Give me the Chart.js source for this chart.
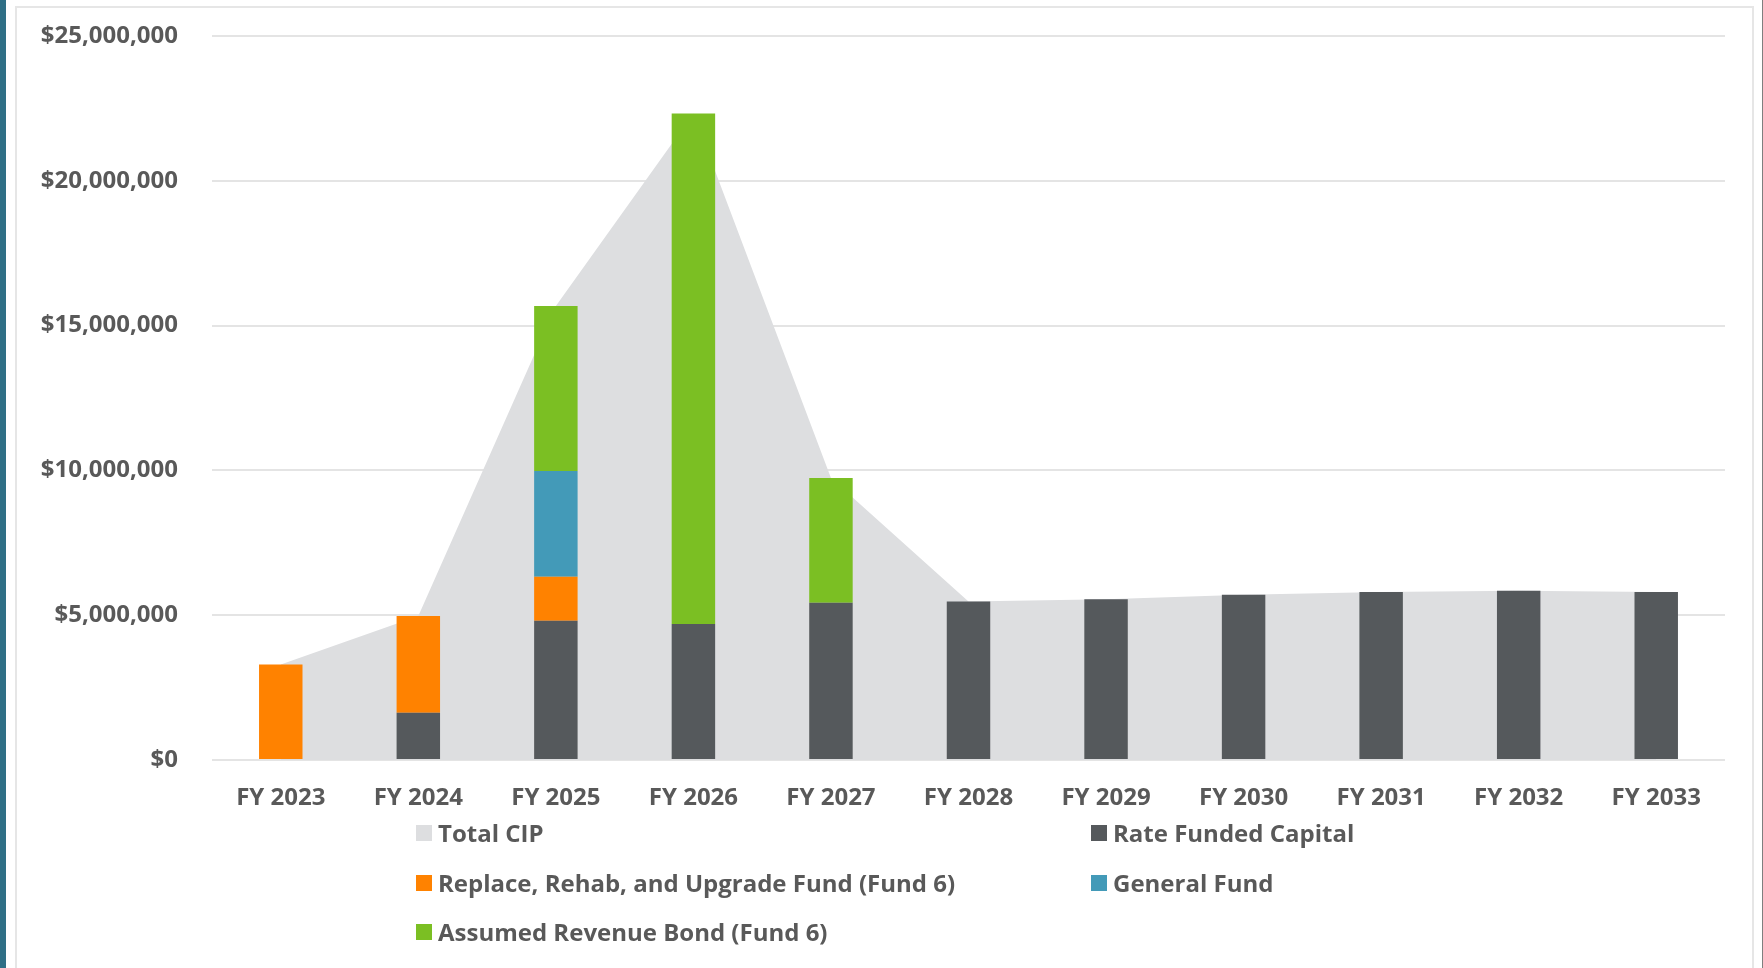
<!DOCTYPE html>
<html lang="en">
<head>
    <meta charset="UTF-8">
    <title>CIP Funding Sources</title>
    <style>
        html, body { margin: 0; padding: 0; background: #fff; }
        body { width: 1763px; height: 968px; position: relative; overflow: hidden; font-family: "Open Sans", sans-serif; }
        .strip { position: absolute; left: 0; top: 0; width: 6px; height: 968px; background: #2f6f86; }
        .frame { position: absolute; left: 15px; top: 6px; width: 1735px; height: 980px; border: 2px solid #e6e6e6; }
        .edge { position: absolute; right: 0; top: 0; width: 1px; height: 968px; background: #7f7f7f; }
        .wrap { position: absolute; left: 0; top: 0; width: 1763px; height: 968px; }
        #legend { position: absolute; left: 0; top: 0; }
        .item { position: absolute; display: flex; align-items: center; color: #595959; font-size: 24px; font-weight: 700; white-space: nowrap; line-height: 1; }
        .item span.box { width: 16px; height: 16px; margin-right: 6px; display: inline-block; }
    </style>
</head>
<body>
<div class="strip"></div>
<div class="frame"></div>
<div class="edge"></div>
<div class="wrap">
    <canvas id="myChart"></canvas>
</div>
<div id="legend"></div>

<script src="https://cdn.jsdelivr.net/npm/chart.js"></script>
<script>
    const years = ['FY 2023', 'FY 2024', 'FY 2025', 'FY 2026', 'FY 2027', 'FY 2028',
                   'FY 2029', 'FY 2030', 'FY 2031', 'FY 2032', 'FY 2033'];
    const rateFunded   = [0, 1630000, 4810000, 4700000, 5430000, 5470000, 5550000, 5710000, 5800000, 5840000, 5800000];
    const replaceFund6 = [3300000, 3340000, 1520000, 0, 0, 0, 0, 0, 0, 0, 0];
    const generalFund  = [0, 0, 3650000, 0, 0, 0, 0, 0, 0, 0, 0];
    const revenueBond  = [0, 0, 5700000, 17620000, 4310000, 0, 0, 0, 0, 0, 0];
    const totalCIP     = [3300000, 4970000, 15680000, 22320000, 9740000, 5470000, 5550000, 5710000, 5800000, 5840000, 5800000];
    const yTicks = [0, 5000000, 10000000, 15000000, 20000000, 25000000];

    const textColor = '#595959';
    const tickFont = { family: 'Open Sans', size: 24, weight: '700' };

    const ctx = document.getElementById('myChart');
    const chart = new Chart(ctx, {
        type: 'bar',
        data: {
            labels: years,
            datasets: [
                {
                    type: 'line',
                    label: 'Total CIP',
                    data: totalCIP,
                    backgroundColor: '#dddee0',
                    borderWidth: 0,
                    pointRadius: 0,
                    fill: 'origin',
                    stack: 'total',
                    order: 5,
                    legendPos: [416, 833]
                },
                {
                    label: 'Rate Funded Capital',
                    data: rateFunded,
                    backgroundColor: '#55595c',
                    stack: 'funds',
                    order: 1,
                    legendPos: [1091, 833]
                },
                {
                    label: 'Replace, Rehab, and Upgrade Fund (Fund 6)',
                    data: replaceFund6,
                    backgroundColor: '#ff8200',
                    stack: 'funds',
                    order: 2,
                    legendPos: [416, 883]
                },
                {
                    label: 'General Fund',
                    data: generalFund,
                    backgroundColor: '#439ab8',
                    stack: 'funds',
                    order: 3,
                    legendPos: [1091, 883]
                },
                {
                    label: 'Assumed Revenue Bond (Fund 6)',
                    data: revenueBond,
                    backgroundColor: '#7bbf23',
                    stack: 'funds',
                    order: 4,
                    legendPos: [416, 932]
                }
            ]
        },
        options: {
            responsive: true,
            maintainAspectRatio: false,
            animation: false,
            layout: { padding: { left: 0, right: 38, top: 36, bottom: 0 } },
            datasets: {
                bar: { categoryPercentage: 1.0, barPercentage: 0.316 }
            },
            plugins: {
                legend: { display: false },
                tooltip: { enabled: false }
            },
            scales: {
                x: {
                    stacked: true,
                    grid: { display: false, drawTicks: false },
                    border: { display: false },
                    ticks: { color: textColor, font: tickFont, padding: 24, maxRotation: 0 },
                    afterFit: function(scale) { scale.height = 208; }
                },
                y: {
                    stacked: true,
                    min: 0,
                    max: 25000000,
                    grid: { color: '#e4e4e4', lineWidth: 2, drawTicks: false },
                    border: { display: false },
                    afterBuildTicks: function(scale) {
                        scale.ticks = yTicks.map(v => ({ value: v }));
                    },
                    ticks: {
                        color: textColor,
                        font: tickFont,
                        padding: 34,
                        callback: v => '$' + v.toLocaleString('en-US')
                    },
                    afterFit: function(scale) {
                        scale.width = 212;
                        // the top label may overhang the padding, keep the plot top fixed
                        scale.paddingTop = 0;
                        scale.paddingBottom = 0;
                    }
                }
            }
        }
    });

    // two-column legend built from the datasets
    const legend = document.getElementById('legend');
    chart.data.datasets.forEach(ds => {
        const item = document.createElement('div');
        item.className = 'item';
        item.style.left = ds.legendPos[0] + 'px';
        item.style.top = (ds.legendPos[1] - 12) + 'px';
        const box = document.createElement('span');
        box.className = 'box';
        box.style.background = ds.backgroundColor;
        item.appendChild(box);
        item.appendChild(document.createTextNode(ds.label));
        legend.appendChild(item);
    });
</script>
</body>
</html>
